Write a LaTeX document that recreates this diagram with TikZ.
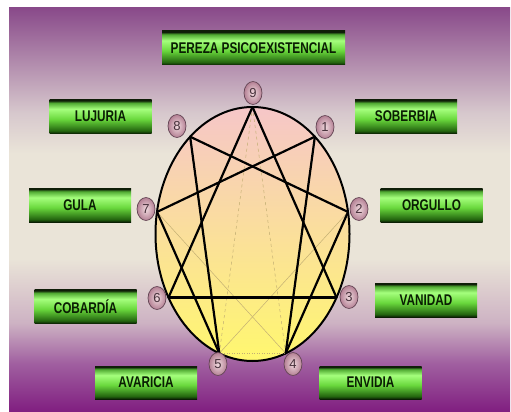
\documentclass[tikz,border=0pt]{standalone}
\usepackage{fontspec}
\setsansfont{Liberation Sans}
\newfontfamily\boxfont[FakeStretch=0.76]{Liberation Sans}
\usetikzlibrary{shapes.geometric}

\definecolor{bgtop}{RGB}{137,74,138}
\definecolor{bgupper}{RGB}{215,200,205}
\definecolor{bglight}{RGB}{234,228,216}
\definecolor{bglower}{RGB}{205,178,195}
\definecolor{bgdeep}{RGB}{160,95,160}
\definecolor{bgbottom}{RGB}{128,30,128}
\definecolor{barblack}{RGB}{15,30,8}
\definecolor{barmid}{RGB}{80,170,50}
\definecolor{barlight}{RGB}{165,255,125}
\definecolor{bargreen}{RGB}{105,215,60}
\definecolor{bardark}{RGB}{35,100,15}
\definecolor{barfoot}{RGB}{10,30,3}
\definecolor{ellpink}{RGB}{246,198,200}
\definecolor{ellyellow}{RGB}{255,248,110}
\definecolor{dotin}{RGB}{240,218,222}
\definecolor{dotout}{RGB}{180,128,148}
\definecolor{dotline}{RGB}{100,70,85}
\definecolor{fainttan}{RGB}{195,175,115}

\pgfdeclareverticalshading{bgshade}{100bp}{color(0bp)=(bgbottom); color(25bp)=(bgbottom);
  color(31bp)=(bgdeep); color(36bp)=(bglower); color(44bp)=(bglight); color(57bp)=(bglight);
  color(62bp)=(bgupper); color(75bp)=(bgtop); color(100bp)=(bgtop)}
\pgfdeclareverticalshading{barshade}{100bp}{color(0bp)=(barfoot); color(25bp)=(barfoot);
  color(29bp)=(bardark); color(46bp)=(bargreen); color(61bp)=(barlight); color(70bp)=(barmid);
  color(73.5bp)=(barblack); color(100bp)=(barblack)}

\begin{document}
\begin{tikzpicture}[
  x=1pt, y=-1pt,
  vice/.style={shading=barshade, minimum width=102pt, minimum height=34pt, inner sep=0pt,
    font=\boxfont\bfseries\fontsize{15.5}{15.5}\selectfont, text=barfoot},
  num/.style={ellipse, draw=dotline, line width=0.7pt, inner color=dotin, outer color=dotout,
    minimum width=18pt, minimum height=23pt, inner sep=0pt,
    font=\sffamily\fontsize{13}{13}\selectfont, text=dotline!70!black},
  chord/.style={line width=2.2pt, line cap=round},
  faint/.style={line width=0.5pt, fainttan},
]
\useasboundingbox (0,0) rectangle (511,412);
\fill[white] (0,0) rectangle (511,412);
\shade[shading=bgshade] (9,8) rectangle (510,412);

% ---------------- vices ----------------
\node[vice, minimum width=183pt] (pereza) at (253.5,48) {PEREZA PSICOEXISTENCIAL};
\node[vice] (lujuria) at (100.5,116.5) {LUJURIA};
\node[vice] (soberbia) at (406,116.5) {SOBERBIA};
\node[vice] (gula) at (80,205) {GULA};
\node[vice] (orgullo) at (431.5,205) {ORGULLO};
\node[vice] (cobardia) at (85.5,306.5) {COBARDÍA};
\node[vice] (vanidad) at (426,300) {VANIDAD};
\node[vice, minimum height=33pt] (avaricia) at (146,382.5) {AVARICIA};
\node[vice, minimum height=33pt] (envidia) at (370.5,382.5) {ENVIDIA};

% ---------------- enneagram ----------------
\draw[line width=2pt, top color=ellpink, bottom color=ellyellow]
  (252.5,234) ellipse [x radius=97, y radius=127];
\foreach \k in {1,...,9}
  \coordinate (p\k) at ({252.5+97*cos(90-40*\k)},{234-127*sin(90-40*\k)});

\foreach \a/\b in {9/4,9/5} \draw[faint, dashed] (p\a) -- (p\b);
\foreach \a/\b in {7/4,2/5} \draw[faint] (p\a) -- (p\b);
\draw[faint, dotted] (p5) -- (p4);

\foreach \a/\b in {9/3,3/6,6/9,1/4,4/2,2/8,8/5,5/7,7/1}
  \draw[chord] (p\a) -- (p\b);

\foreach \k/\x/\y in {9/253/93,1/325/127,2/359/209,3/349/297,4/293/364,
                      5/218/364,6/157/298,7/146/209,8/177/126}
  \node[num] (n\k) at (\x,\y) {\k};
\end{tikzpicture}
\end{document}
